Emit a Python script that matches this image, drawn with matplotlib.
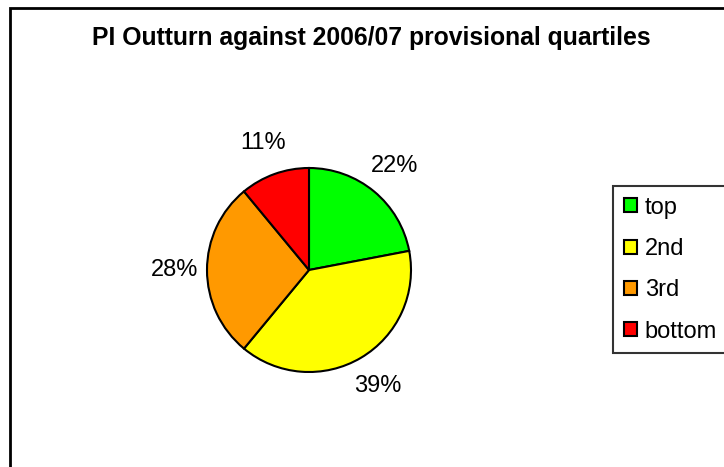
import matplotlib
matplotlib.use("Agg")
import matplotlib.pyplot as plt
from matplotlib.patches import Rectangle

categories = ["top", "2nd", "3rd", "bottom"]
values = [22, 39, 28, 11]
colors = ["#00ff00", "#ffff00", "#ff9900", "#ff0000"]
title = "PI Outturn against 2006/07 provisional quartiles"

plt.rcParams['font.family'] = ['Liberation Sans', 'DejaVu Sans']

fig = plt.figure(figsize=(7.24, 4.67), dpi=100)
W, H = 724, 467

# outer chart frame
fig.patches.append(Rectangle((10 / W, -0.05), 1.2, 1 - 8 / H + 0.05,
                             transform=fig.transFigure, fill=False,
                             edgecolor="black", linewidth=2, zorder=0))

fig.text(371 / W, 1 - 38 / H, title, ha="center", va="center",
         fontsize=17.8, fontweight="bold")

cx, cy, r = 309, 270, 102
ax = fig.add_axes([(cx - r) / W, (H - cy - r) / H, 2 * r / W, 2 * r / H])
wedges, texts, autotexts = ax.pie(values, colors=colors, startangle=90,
                                  counterclock=False,
                                  autopct=lambda p: f"{p:.0f}%",
                                  pctdistance=1.32,
                                  wedgeprops=dict(edgecolor="black", linewidth=1.5))
for t in autotexts:
    t.set_fontsize(17)
ax.set_xlim(-1, 1)
ax.set_ylim(-1, 1)
ax.set_aspect("equal")

leg = fig.legend(wedges, categories, loc="upper left",
                 bbox_to_anchor=(613 / W, 1 - 186 / H),
                 fontsize=17, frameon=True, fancybox=False,
                 edgecolor="black", handlelength=0.55, handleheight=0.55,
                 handletextpad=0.35, labelspacing=0.82, borderpad=0.45,
                 borderaxespad=0)
leg.get_frame().set_linewidth(1.5)

fig.savefig("out.png", dpi=100)
